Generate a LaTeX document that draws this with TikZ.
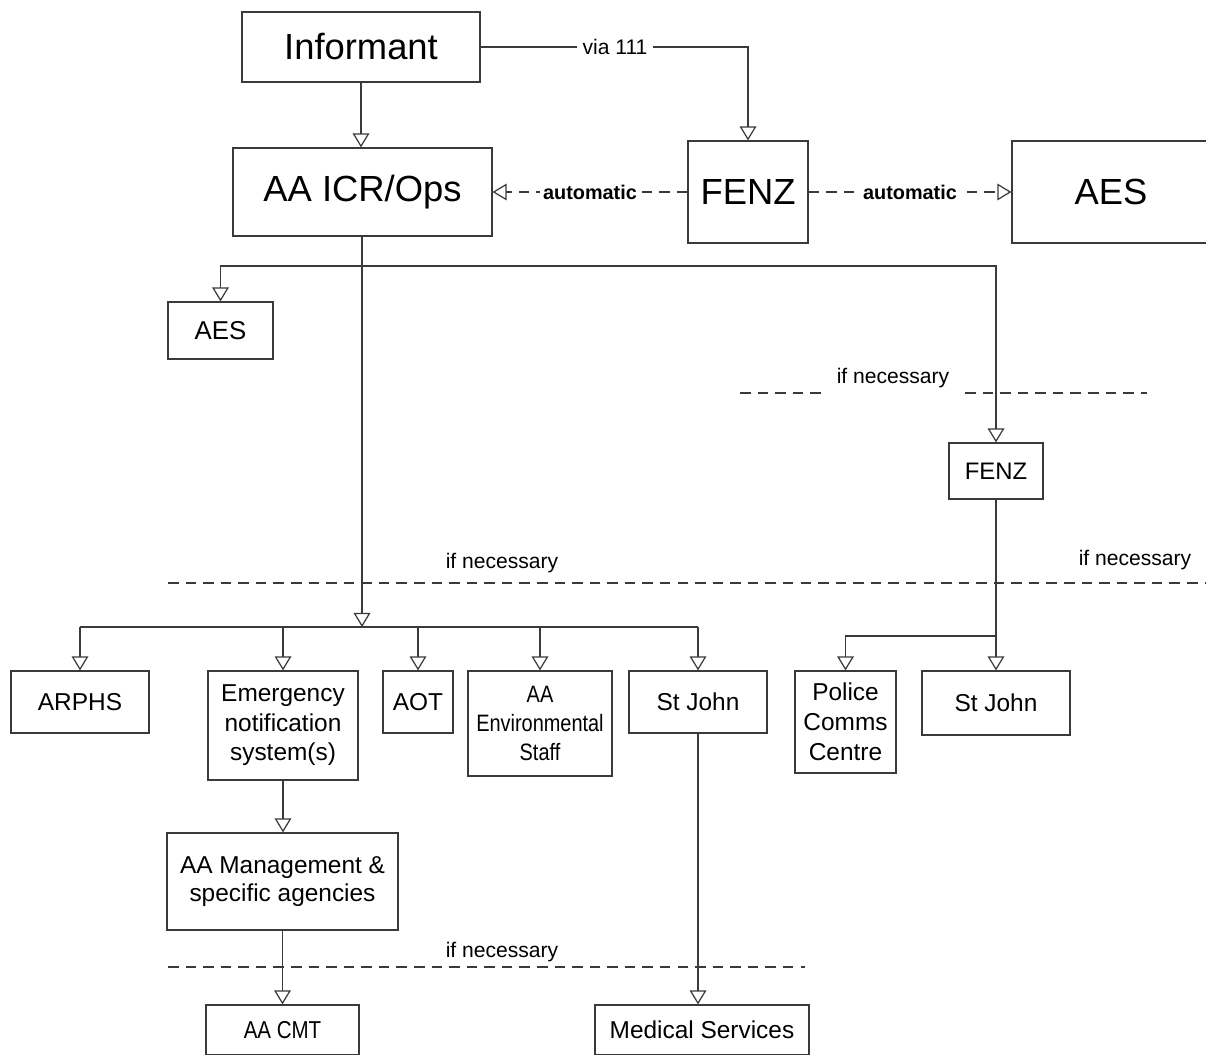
\documentclass[tikz,border=0pt]{standalone}
\usepackage{fontspec}
\setmainfont{Liberation Sans}
\newfontfamily\condfont[FakeStretch=0.84]{Liberation Sans}
\usetikzlibrary{arrows.meta}
\definecolor{linec}{HTML}{3A3A3A}
\newcommand{\fBig}{\fontsize{20.7pt}{24pt}\selectfont}
\newcommand{\fBox}{\fontsize{13.9pt}{16.4pt}\selectfont}
\newcommand{\fLbl}{\fontsize{12pt}{14pt}\selectfont}
\newcommand{\fAuto}{\fontsize{11.3pt}{13pt}\selectfont\bfseries}
\begin{document}
\begin{tikzpicture}[x=0.02cm,y=-0.02cm,
  box/.style={draw=linec,line width=0.7pt,inner sep=0pt,align=center,font=\fBox},
  bigbox/.style={box,font=\fBig},
  arr/.style={draw=linec,line width=0.7pt,-{Triangle[open,length=8pt,width=9.5pt]}},
  ln/.style={draw=linec,line width=0.7pt},
  dasharr/.style={arr,dash pattern=on 6pt off 4pt},
  sepline/.style={draw=linec,line width=0.7pt,dash pattern=on 6pt off 4pt},
  lbl/.style={inner sep=1.5pt,font=\fLbl},
  autolbl/.style={fill=white,inner sep=2pt,font=\fAuto}]
\useasboundingbox (0,0) rectangle (1206,1054);
\clip (0,0) rectangle (1206,1054);

% top level
\node[bigbox,minimum width=4.76cm,minimum height=1.40cm] (inf) at (361,47) {Informant};
\node[bigbox,minimum width=5.18cm,minimum height=1.76cm] (icr) at (362.5,192) {AA ICR/Ops};
\node[bigbox,minimum width=2.40cm,minimum height=2.04cm] (fenz) at (748,192) {FENZ};
\node[bigbox,minimum width=3.96cm,minimum height=2.04cm] (aes) at (1111,192) {AES};

% second level
\node[box,font=\fontsize{14.7pt}{17pt}\selectfont,minimum width=2.10cm,minimum height=1.14cm] (aes2) at (220.5,330.5) {AES};
\node[box,font=\fontsize{13.6pt}{16pt}\selectfont,minimum width=1.88cm,minimum height=1.12cm] (fenz2) at (996,471) {FENZ};

% third level
\node[box,minimum width=2.76cm,minimum height=1.24cm] (arphs) at (80,702) {ARPHS};
\node[box,font=\fontsize{13.9pt}{16.8pt}\selectfont,minimum width=3.00cm,minimum height=2.18cm] (ens) at (283,725.5) {Emergency\\notification\\system(s)};
\node[box,minimum width=1.40cm,minimum height=1.24cm] (aot) at (418,702) {AOT};
\node[box,font=\fontsize{13.5pt}{16.6pt}\condfont,minimum width=2.88cm,minimum height=2.10cm] (env) at (540,723.5) {AA\\Environmental\\Staff};
\node[box,minimum width=2.76cm,minimum height=1.24cm] (sj1) at (698,702) {St John};
\node[box,font=\fontsize{13.9pt}{17pt}\selectfont,minimum width=2.02cm,minimum height=2.04cm] (pol) at (845.5,722) {Police\\Comms\\Centre};
\node[box,minimum width=2.96cm,minimum height=1.28cm] (sj2) at (996,703) {St John};

% fourth level
\node[box,minimum width=4.62cm,minimum height=1.94cm] (mgmt) at (282.5,881.5) {AA Management \&\\specific agencies};
\node[box,font=\fontsize{13.9pt}{16.4pt}\condfont,minimum width=3.06cm,minimum height=1.00cm] (cmt) at (282.5,1030) {AA CMT};
\node[box,minimum width=4.28cm,minimum height=1.00cm] (med) at (702,1030) {Medical Services};

% separators
\draw[sepline] (740,393) -- (823,393);
\draw[sepline] (965,393) -- (1147,393);
\node[lbl] (nec1) at (893,378) {if necessary};
\draw[sepline] (168,583) -- (1206,583);
\node[lbl] (nec2) at (502,563) {if necessary};
\node[lbl] (nec3) at (1135,560) {if necessary};
\draw[sepline] (168,967) -- (805,967);
\node[lbl] (nec4) at (502,952) {if necessary};

% connectors top
\draw[arr] (inf.south) -- (inf.south |- icr.north);
\draw[arr] (inf.east) -| (fenz.north);
\node[lbl,fill=white,inner sep=3pt] (via) at (615,47) {via 111};
\draw[dasharr] (fenz.west) -- (icr.east);
\node[autolbl] (auto1) at (590,192) {automatic};
\draw[dasharr] (fenz.east) -- (aes.west);
\node[autolbl] (auto2) at (910,192) {automatic};

% from AA ICR/Ops
\coordinate (j1) at (362,266);
\coordinate (j2) at (362,627);
\draw[ln] (icr.south -| j1) -- (j1);
\draw[arr] (j1) -| (aes2.north);
\draw[arr] (j1) -| (fenz2.north);
\draw[arr] (j1) -- (j2);
\draw[ln] (arphs.north |- j2) -- (sj1.north |- j2);
\draw[arr] (arphs.north |- j2) -- (arphs.north);
\draw[arr] (ens.north |- j2) -- (ens.north);
\draw[arr] (aot.north |- j2) -- (aot.north);
\draw[arr] (env.north |- j2) -- (env.north);
\draw[arr] (sj1.north |- j2) -- (sj1.north);

% from FENZ (small)
\coordinate (j3) at (996,636);
\draw[arr] (fenz2.south) -- (sj2.north);
\draw[arr] (j3) -| (pol.north);

% lower chain
\draw[arr] (ens.south) -- (ens.south |- mgmt.north);
\draw[arr] (mgmt.south) -- (cmt.north);
\draw[arr] (sj1.south) -- (sj1.south |- med.north);
\end{tikzpicture}
\end{document}
